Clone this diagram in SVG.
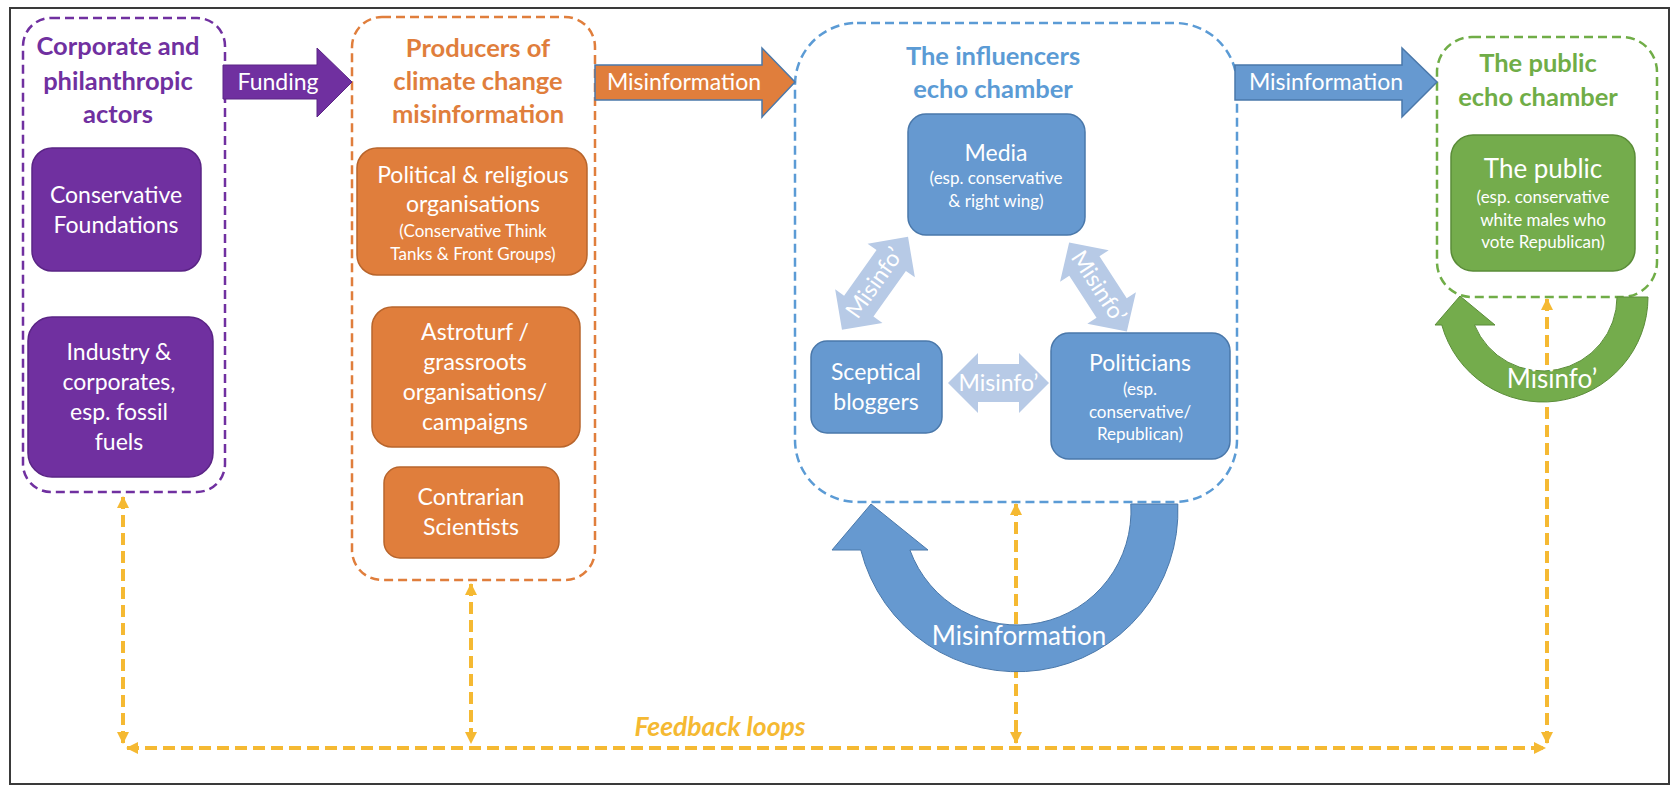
<svg xmlns="http://www.w3.org/2000/svg" width="1676" height="794" viewBox="0 0 1676 794">
<defs>
<style>
text{font-family:Lato,"Open Sans","Liberation Sans",sans-serif;text-anchor:middle}
.t{font-weight:700;font-size:25.5px}
.w{fill:#fff;font-size:23px}
.wl{fill:#fff;font-size:26px}
.s{fill:#fff;font-size:17px}
.grp{fill:none;stroke-width:2.5;stroke-dasharray:9 5}
.pu{fill:#7030A0;stroke:#5a2485;stroke-width:1.5}
.or{fill:#E07E3C;stroke:#b8652c;stroke-width:1.5}
.bl{fill:#6699D0;stroke:#4a78aa;stroke-width:1.5}
.gr{fill:#74AC4C;stroke:#5a8c38;stroke-width:1.5}
.lb{fill:#B7CAE6}
.fb{fill:none;stroke:#F5B932;stroke-width:4;stroke-dasharray:12 6}
</style>
<marker id="ya" viewBox="0 0 12 12" refX="11" refY="6" markerWidth="12" markerHeight="12" markerUnits="userSpaceOnUse" orient="auto-start-reverse"><path d="M0,0 L12,6 L0,12 z" fill="#F5B932"/></marker>
</defs>
<rect x="0" y="0" width="1676" height="794" fill="#fff"/>
<rect x="10" y="8" width="1659" height="776" fill="none" stroke="#3a3a3a" stroke-width="2"/>

<g id="corporate-group">
<rect class="grp" x="23" y="18" width="202" height="474" rx="28" stroke="#7030A0"/>
<text class="t" fill="#7030A0" x="118" y="55">Corporate and</text>
<text class="t" fill="#7030A0" x="118" y="90">philanthropic</text>
<text class="t" fill="#7030A0" x="118" y="123">actors</text>
</g>
<g id="conservative-foundations">
<rect class="pu" x="32" y="148" width="169" height="123" rx="20"/>
<text class="w" x="116" y="203">Conservative</text>
<text class="w" x="116" y="233">Foundations</text>
</g>
<g id="industry">
<rect class="pu" x="28" y="317" width="185" height="160" rx="24"/>
<text class="w" x="119" y="360">Industry &amp;</text>
<text class="w" x="119" y="390">corporates,</text>
<text class="w" x="119" y="420">esp. fossil</text>
<text class="w" x="119" y="450">fuels</text>
</g>

<g id="producers-group">
<rect class="grp" x="352" y="17" width="243" height="563" rx="30" stroke="#E07E3C"/>
<text class="t" fill="#E07E3C" x="478" y="57">Producers of</text>
<text class="t" fill="#E07E3C" x="478" y="90">climate change</text>
<text class="t" fill="#E07E3C" x="478" y="123">misinformation</text>
</g>
<g id="political-religious">
<rect class="or" x="357" y="148" width="230" height="127" rx="20"/>
<text class="w" x="473" y="183">Political &amp; religious</text>
<text class="w" x="473" y="212">organisations</text>
<text class="s" x="473" y="237">(Conservative Think</text>
<text class="s" x="473" y="260">Tanks &amp; Front Groups)</text>
</g>
<g id="astroturf">
<rect class="or" x="372" y="307" width="208" height="140" rx="20"/>
<text class="w" x="475" y="340">Astroturf /</text>
<text class="w" x="475" y="370">grassroots</text>
<text class="w" x="475" y="400">organisations/</text>
<text class="w" x="475" y="430">campaigns</text>
</g>
<g id="contrarian">
<rect class="or" x="384" y="467" width="175" height="91" rx="16"/>
<text class="w" x="471" y="505">Contrarian</text>
<text class="w" x="471" y="535">Scientists</text>
</g>

<g id="influencers-group">
<rect class="grp" x="795" y="23" width="442" height="479" rx="62" stroke="#5B9BD5" stroke-width="2"/>
<text class="t" fill="#5B9BD5" x="993" y="65">The influencers</text>
<text class="t" fill="#5B9BD5" x="993" y="98">echo chamber</text>
</g>
<g id="media">
<rect class="bl" x="908" y="114" width="177" height="121" rx="18"/>
<text class="w" x="996" y="161">Media</text>
<text class="s" x="996" y="184">(esp. conservative</text>
<text class="s" x="996" y="207">&amp; right wing)</text>
</g>
<g id="bloggers">
<rect class="bl" x="811" y="341" width="131" height="92" rx="16"/>
<text class="w" x="876" y="380">Sceptical</text>
<text class="w" x="876" y="410">bloggers</text>
</g>
<g id="politicians">
<rect class="bl" x="1051" y="333" width="179" height="126" rx="18"/>
<text class="w" x="1140" y="371">Politicians</text>
<text class="s" x="1140" y="395">(esp.</text>
<text class="s" x="1140" y="418">conservative/</text>
<text class="s" x="1140" y="440">Republican)</text>
</g>

<g id="public-group">
<rect class="grp" x="1437" y="37" width="220" height="260" rx="35" stroke="#70AD47" stroke-width="2"/>
<text class="t" fill="#70AD47" x="1538" y="72">The public</text>
<text class="t" fill="#70AD47" x="1538" y="106">echo chamber</text>
</g>
<g id="public">
<rect class="gr" x="1451" y="135" width="184" height="136" rx="22"/>
<text class="wl" x="1543" y="178">The public</text>
<text class="s" x="1543" y="203">(esp. conservative</text>
<text class="s" x="1543" y="226">white males who</text>
<text class="s" x="1543" y="248">vote Republican)</text>
</g>

<g id="connectors">
<g id="feedback">
<path class="fb" d="M123,497 V743" marker-start="url(#ya)" marker-end="url(#ya)"/>
<path class="fb" d="M471,584 V743" marker-start="url(#ya)" marker-end="url(#ya)"/>
<path class="fb" d="M1016,504 V743" marker-start="url(#ya)" marker-end="url(#ya)"/>
<path class="fb" d="M1547,299 V743" marker-start="url(#ya)" marker-end="url(#ya)"/>
<path class="fb" d="M127,748 H1545" marker-start="url(#ya)" marker-end="url(#ya)"/>
<text x="720" y="736" font-weight="700" font-style="italic" font-size="26.5" fill="#F5B932">Feedback loops</text>
</g>
<g id="influencers-loop">
<path d="M1177.8,504 A161,161 0 0 1 860.8,550 L832,550 L871,504 L928,550 L909.9,550 A114,114 0 0 0 1130.8,504 Z" fill="#6699D0" stroke="#4a78aa" stroke-width="1"/>
<text class="wl" x="1019" y="645">Misinformation</text>
</g>
<g id="public-loop">
<path d="M1648,297 A105,105 0 0 1 1441.8,325 L1435,325 L1460,296 L1495,325 L1474.5,325 A74,74 0 0 0 1617,297 Z" fill="#74AC4C" stroke="#5a8c38" stroke-width="1"/>
<text class="wl" x="1552" y="388">Misinfo’</text>
</g>
<g id="funding-arrow">
<path d="M223,65 H317 V48 L352,82 L317,117 V99 H223 Z" fill="#7030A0" stroke="#5a2485" stroke-width="1"/>
<text class="w" x="278" y="90">Funding</text>
</g>
<g id="misinfo-arrow-1">
<path d="M595,65 H762 V48 L795,82 L762,117 V100 H595 Z" fill="#E07E3C" stroke="#4a78aa" stroke-width="1.5"/>
<text class="w" x="684" y="90">Misinformation</text>
</g>
<g id="misinfo-arrow-2">
<path d="M1235,65 H1402 V48 L1437,82 L1402,117 V100 H1235 Z" fill="#6699D0" stroke="#4a78aa" stroke-width="1.5"/>
<text class="w" x="1326" y="90">Misinformation</text>
</g>
<g id="bloggers-politicians" transform="translate(998.5,383)">
<polygon class="lb" points="-50.5,0 -20.5,-30 -20.5,-19 20.5,-19 20.5,-30 50.5,0 20.5,30 20.5,19 -20.5,19 -20.5,30"/>
<text class="w" x="0" y="8">Misinfo’</text>
</g>
<g id="media-bloggers" transform="translate(875,283.3) rotate(-54.6)">
<polygon class="lb" points="-57,0 -28,-29 -28,-18 28,-18 28,-29 57,0 28,29 28,18 -28,18 -28,29"/>
<text class="w" x="0" y="7" font-size="20">Misinfo’</text>
</g>
<g id="media-politicians" transform="translate(1098,287) rotate(57)">
<polygon class="lb" points="-53,0 -25,-29 -25,-18 25,-18 25,-29 53,0 25,29 25,18 -25,18 -25,29"/>
<text class="w" x="0" y="7" font-size="20">Misinfo’</text>
</g>
</g>
</svg>
